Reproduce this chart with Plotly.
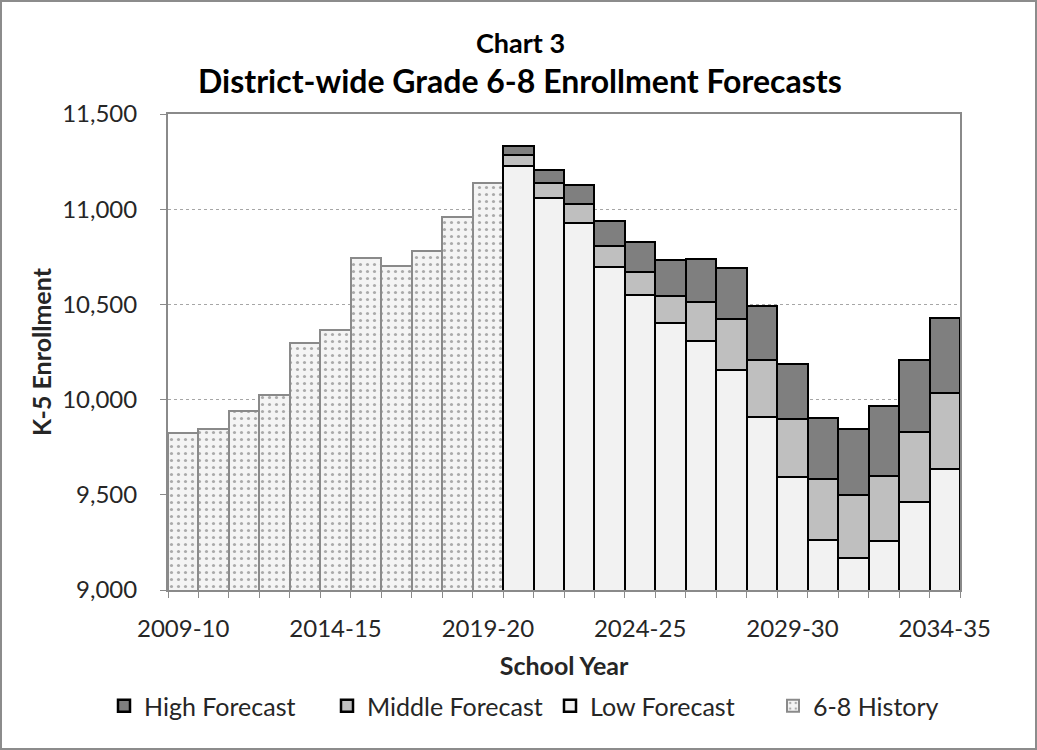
import plotly.graph_objects as go

years = ["2009-10", "2010-11", "2011-12", "2012-13", "2013-14", "2014-15", "2015-16",
         "2016-17", "2017-18", "2018-19", "2019-20", "2020-21", "2021-22", "2022-23",
         "2023-24", "2024-25", "2025-26", "2026-27", "2027-28", "2028-29", "2029-30",
         "2030-31", "2031-32", "2032-33", "2033-34", "2034-35"]

history_years = years[:11]
history = [9824, 9847, 9939, 10022, 10297, 10368, 10746, 10701, 10780, 10960, 11136]

forecast_years = years[11:]
low_forecast = [11228, 11060, 10930, 10697, 10548, 10402, 10306, 10157, 9908, 9592,
                9263, 9168, 9256, 9461, 9636]
middle_forecast = [11283, 11136, 11027, 10806, 10669, 10543, 10513, 10422, 10210, 9896,
                   9584, 9500, 9601, 9829, 10036]
high_forecast = [11332, 11206, 11127, 10939, 10829, 10732, 10741, 10692, 10490, 10189,
                 9903, 9847, 9969, 10206, 10431]

tick_labels = ["2009-10", "2014-15", "2019-20", "2024-25", "2029-30", "2034-35"]

FONT = "Lato, 'Open Sans', sans-serif"
TXT = "#262626"

mid_seg = [m - l for m, l in zip(middle_forecast, low_forecast)]
high_seg = [h - m for h, m in zip(high_forecast, middle_forecast)]

fig = go.Figure()
fig.add_trace(go.Bar(
    x=history_years, y=history, name="6-8 History",
    marker=dict(color="#f2f2f2", line=dict(color="#8a8a8a", width=2),
                pattern=dict(shape=".", fgcolor="#606060", bgcolor="#f4f4f4",
                             size=7, solidity=0.16)),
))
fig.add_trace(go.Bar(
    x=forecast_years, y=low_forecast, name="Low Forecast",
    marker=dict(color="#f2f2f2", line=dict(color="#000000", width=2.5)),
))
fig.add_trace(go.Bar(
    x=forecast_years, y=mid_seg, name="Middle Forecast",
    marker=dict(color="#bfbfbf", line=dict(color="#000000", width=2.5)),
))
fig.add_trace(go.Bar(
    x=forecast_years, y=high_seg, name="High Forecast",
    marker=dict(color="#7f7f7f", line=dict(color="#000000", width=2.5)),
))

W, H = 1037, 750
ml, mr, mt, mb = 168, 77, 114, 160
pw, ph = W - ml - mr, H - mt - mb

fig.update_layout(
    width=W, height=H,
    margin=dict(l=ml, r=mr, t=mt, b=mb, autoexpand=False),
    paper_bgcolor="white", plot_bgcolor="white",
    barmode="stack", bargap=0,
    font=dict(family=FONT, size=24, color=TXT),
    showlegend=True,
    legend=dict(orientation="h", traceorder="reversed",
                xref="paper", yref="paper",
                x=(104 - ml) / pw, xanchor="left",
                y=(590 - 706) / ph, yanchor="middle",
                font=dict(size=25, color=TXT), itemwidth=30, entrywidth=178),
    xaxis=dict(
        type="category", categoryorder="array", categoryarray=years,
        tickmode="array", tickvals=years, automargin=False,
        ticktext=[y if y in tick_labels else "" for y in years],
        tickson="boundaries", ticks="outside", ticklen=6, tickcolor="#8a8a8a",
        showline=True, linecolor="#8a8a8a", linewidth=2, mirror=True,
        showgrid=False, tickangle=0, ticklabelstandoff=16,
        tickfont=dict(size=24, color=TXT),
        title=dict(text="<b>School Year</b>", font=dict(size=25, color=TXT), standoff=17),
    ),
    yaxis=dict(
        range=[9000, 11500], tickvals=[9000, 9500, 10000, 10500, 11000, 11500],
        automargin=False,
        tickformat=",", ticks="outside", ticklen=6, tickcolor="#8a8a8a",
        showline=True, linecolor="#8a8a8a", linewidth=2, mirror=True,
        showgrid=True, gridcolor="#a6a6a6", griddash="dot", gridwidth=1,
        ticklabelstandoff=18,
        tickfont=dict(size=24, color=TXT),
        title=dict(text="<b>K-5 Enrollment</b>", font=dict(size=25, color=TXT), standoff=3),
    ),
    annotations=[
        dict(text="<b>Chart 3</b>", xref="paper", yref="paper",
             x=(520 - ml) / pw, y=(590 - 42) / ph, xanchor="center", yanchor="middle",
             showarrow=False, font=dict(size=27, color="#000000")),
        dict(text="<b>District-wide Grade 6-8 Enrollment Forecasts</b>", xref="paper", yref="paper",
             x=(520 - ml) / pw, y=(590 - 80) / ph, xanchor="center", yanchor="middle",
             showarrow=False, font=dict(size=32, color="#000000")),
    ],
    shapes=[
        dict(type="rect", xref="paper", yref="paper",
             x0=(1 - ml) / pw, x1=(W - 1 - ml) / pw,
             y0=(590 - (H - 1)) / ph, y1=(590 - 1) / ph,
             line=dict(color="#8c8c8c", width=2), fillcolor="rgba(0,0,0,0)", layer="above"),
    ],
)

fig.write_html("out.html")
